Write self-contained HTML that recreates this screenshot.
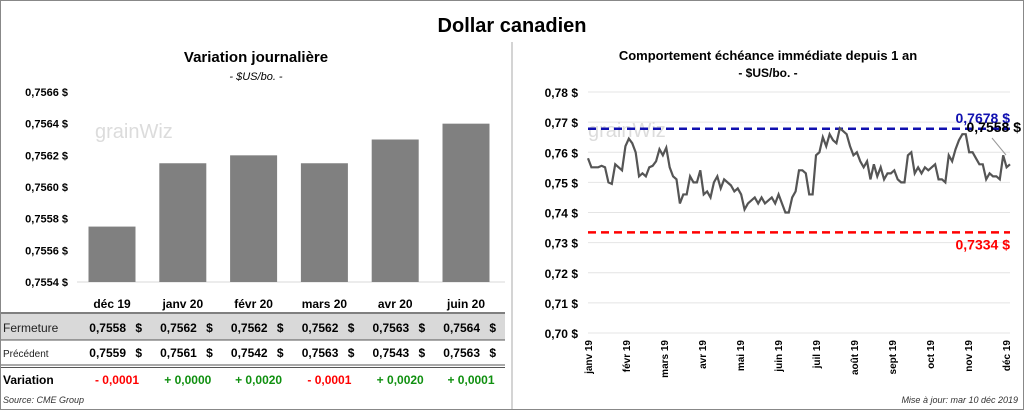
<!DOCTYPE html>
<html><head><meta charset="utf-8"><style>
body{margin:0;width:1024px;height:410px;background:#fff;font-family:"Liberation Sans",sans-serif;overflow:hidden}
svg{display:block}
</style></head><body>
<svg width="1024" height="410" font-family="Liberation Sans, sans-serif">
<rect x="0.5" y="0.5" width="1023" height="409" fill="#fff" stroke="#888"/>
<text x="512" y="32" text-anchor="middle" font-size="20" font-weight="bold">Dollar canadien</text>
<g id="left"></g>
<g id="right"></g>
</svg>
<script>
const barCats=["déc 19","janv 20","févr 20","mars 20","avr 20","juin 20"];
const barVals=[0.75575,0.75615,0.7562,0.75615,0.7563,0.7564];
const yTicksL=[0.7554,0.7556,0.7558,0.7560,0.7562,0.7564,0.7566];
const closeVals=["0,7558","0,7562","0,7562","0,7562","0,7563","0,7564"];
const prevVals=["0,7559","0,7561","0,7542","0,7563","0,7543","0,7563"];
const varVals=["- 0,0001","+ 0,0000","+ 0,0020","- 0,0001","+ 0,0020","+ 0,0001"];
const lineVals=[0.758,0.755,0.755,0.755,0.7555,0.755,0.750,0.7495,0.756,0.755,0.754,0.762,0.7645,0.763,0.760,0.752,0.753,0.752,0.755,0.7555,0.757,0.761,0.759,0.7615,0.755,0.752,0.751,0.743,0.746,0.746,0.752,0.750,0.750,0.754,0.746,0.747,0.745,0.750,0.752,0.748,0.751,0.750,0.749,0.747,0.748,0.746,0.741,0.743,0.744,0.745,0.743,0.745,0.743,0.744,0.745,0.743,0.746,0.743,0.740,0.740,0.745,0.747,0.754,0.754,0.753,0.746,0.746,0.759,0.760,0.765,0.762,0.766,0.764,0.763,0.768,0.767,0.766,0.762,0.759,0.760,0.757,0.755,0.757,0.751,0.756,0.752,0.755,0.751,0.753,0.753,0.754,0.751,0.750,0.750,0.759,0.760,0.753,0.755,0.753,0.755,0.754,0.755,0.756,0.751,0.751,0.750,0.759,0.757,0.761,0.764,0.766,0.766,0.760,0.760,0.758,0.756,0.756,0.751,0.753,0.752,0.752,0.751,0.759,0.755,0.756];
const monthLabels=["janv 19","févr 19","mars 19","avr 19","mai 19","juin 19","juil 19","août 19","sept 19","oct 19","nov 19","déc 19"];
const yTicksR=[0.70,0.71,0.72,0.73,0.74,0.75,0.76,0.77,0.78];
const highVal=0.7678, lowVal=0.7334, lastVal="0,7558 $";
const NS="http://www.w3.org/2000/svg";
function mk(p,t,a,txt){const e=document.createElementNS(NS,t);for(const k in a)e.setAttribute(k,a[k]);if(txt!==undefined)e.textContent=txt;p.appendChild(e);return e;}
const fr=(v,d)=>v.toFixed(d).replace('.',',');
const L=document.getElementById('left');
let e;
e=mk(L,'text',{x:256,y:62,'text-anchor':'middle','font-size':15,'font-weight':'bold'},'Variation  journalière');

e=mk(L,'text',{x:256,y:80,'text-anchor':'middle','font-size':11,'font-style':'italic'},'- $US/bo. -');

const yL=v=>282-(v-0.7554)/0.0012*190;
const xL=i=>112+i*70.8;
e=mk(L,'line',{x1:77,x2:505,y1:282,y2:282,stroke:'#d9d9d9'});

yTicksL.forEach(t=>{
 e=mk(L,'text',{x:68,y:yL(t)+4,'text-anchor':'end','font-size':11,'font-weight':'bold'},fr(t,4)+' $');
 
});
e=mk(L,'text',{x:95,y:138,'font-size':20,fill:'#dcdcdc'},'grainWiz');

barVals.forEach((v,i)=>{
 e=mk(L,'rect',{x:xL(i)-23.5,y:yL(v),width:47,height:282-yL(v),fill:'#808080'});
 
 e=mk(L,'text',{x:xL(i),y:308,'text-anchor':'middle','font-size':12,'font-weight':'bold'},barCats[i]);
 
});
mk(L,'rect',{x:1,y:314,width:504,height:26,fill:'#d9d9d9'});
mk(L,'line',{x1:1,x2:505,y1:313,y2:313,stroke:'#555','stroke-width':1.5});
mk(L,'line',{x1:1,x2:505,y1:340,y2:340,stroke:'#555'});
mk(L,'line',{x1:1,x2:505,y1:365,y2:365,stroke:'#555'});
mk(L,'line',{x1:1,x2:505,y1:367.5,y2:367.5,stroke:'#555'});
const rows=[["Fermeture",closeVals,332,12,'#000'],["Précédent",prevVals,357,10,'#000']];
rows.forEach(r=>{
 e=mk(L,'text',{x:3,y:r[2],'font-size':r[3],fill:'#222'},r[0]);
 
 r[1].forEach((s,i)=>{
  e=mk(L,'text',{x:xL(i)+14,y:r[2],'text-anchor':'end','font-size':12,'font-weight':'bold'},s);
  
  mk(L,'text',{x:xL(i)+30,y:r[2],'text-anchor':'end','font-size':12,'font-weight':'bold'},'$');
 });
});
e=mk(L,'text',{x:3,y:384,'font-size':12,'font-weight':'bold'},'Variation');

varVals.forEach((s,i)=>{
 e=mk(L,'text',{x:xL(i)+5,y:384,'text-anchor':'middle','font-size':12,'font-weight':'bold',fill:s[0]=='-'?'#ff0000':'#109010'},s);
 
});
e=mk(L,'text',{x:3,y:403,'font-size':9,'font-style':'italic',fill:'#333'},'Source: CME Group');

mk(L,'line',{x1:512,x2:512,y1:42,y2:409,stroke:'#aaa'});
const R=document.getElementById('right');
e=mk(R,'text',{x:768,y:60,'text-anchor':'middle','font-size':13,'font-weight':'bold'},'Comportement échéance immédiate depuis 1 an');

e=mk(R,'text',{x:768,y:77,'text-anchor':'middle','font-size':12,'font-weight':'bold'},'- $US/bo. -');

const yR=v=>333-(v-0.70)/0.08*241;
const x0=588,x1=1010;
const xR=i=>x0+i*(x1-x0)/(lineVals.length-1);
yTicksR.forEach(t=>{
 e=mk(R,'line',{x1:x0,x2:x1,y1:yR(t),y2:yR(t),stroke:'#e4e4e4'});
 
 e=mk(R,'text',{x:578,y:yR(t)+5,'text-anchor':'end','font-size':12,'font-weight':'bold'},fr(t,2)+' $');
 
});
mk(R,'text',{x:588,y:137,'font-size':20,fill:'#dcdcdc'},'grainWiz');
monthLabels.forEach((m,i)=>{
 const x=x0+i*(1006-x0)/11;
 e=mk(R,'text',{x:0,y:0,'text-anchor':'end','font-size':10,'font-weight':'bold',transform:`translate(${x+4},340) rotate(-90)`},m);
 
});
e=mk(R,'line',{x1:x0,x2:x1,y1:yR(highVal),y2:yR(highVal),stroke:'#1010b0','stroke-width':2.5,'stroke-dasharray':'8,5'});

e=mk(R,'line',{x1:x0,x2:x1,y1:yR(lowVal),y2:yR(lowVal),stroke:'#ff0000','stroke-width':2.5,'stroke-dasharray':'8,5'});

e=mk(R,'polyline',{points:lineVals.map((v,i)=>xR(i)+','+yR(v)).join(' '),fill:'none',stroke:'#555','stroke-width':2.2});

e=mk(R,'text',{x:1010,y:yR(highVal)-6,'text-anchor':'end','font-size':14,'font-weight':'bold',fill:'#1010b0'},fr(highVal,4)+' $');

e=mk(R,'text',{x:1010,y:yR(lowVal)+17,'text-anchor':'end','font-size':14,'font-weight':'bold',fill:'#ff0000'},fr(lowVal,4)+' $');

mk(R,'line',{x1:992,x2:1006,y1:138,y2:155,stroke:'#999'});
e=mk(R,'text',{x:1021,y:132,'text-anchor':'end','font-size':14,'font-weight':'bold'},lastVal);

e=mk(R,'text',{x:1018,y:403,'text-anchor':'end','font-size':9,'font-style':'italic',fill:'#333'},'Mise à jour: mar 10 déc 2019');

</script>
</body></html>
